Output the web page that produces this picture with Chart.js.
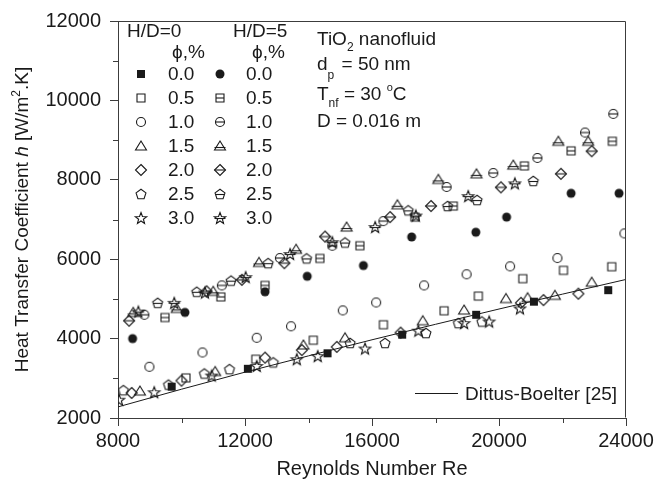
<!DOCTYPE html>
<html>
<head>
<meta charset="utf-8">
<script src="https://cdn.jsdelivr.net/npm/chart.js@4.4.1/dist/chart.umd.min.js"></script>
<style>
html,body{margin:0;padding:0;background:#fff;}
#wrap{width:670px;height:485px;}
</style>
</head>
<body>
<div id="wrap"><canvas id="c" width="670" height="485"></canvas></div>
<script>
// ---------------- DATA (Re, h) ----------------
// H/D = 0
const hd0_phi00 = [[9690,2790],[12090,3240],[14600,3630],[16950,4100],[19280,4600],[21100,4930],[23440,5220]];
const hd0_phi05 = [[10140,3010],[12340,3480],[14150,3960],[16360,4350],[18270,4700],[19350,5070],[20750,5510],[22030,5720],[23550,5810]];
const hd0_phi10 = [[8990,3290],[10660,3650],[12370,4020],[13450,4310],[15080,4710],[16130,4910],[17640,5340],[18980,5620],[20350,5820],[21840,6030],[23950,6650]];
const hd0_phi15 = [[8690,2680],[11060,3170],[13840,3840],[15150,4020],[17600,4450],[18900,4720],[20220,5010],[20900,5030],[21760,5090],[22920,5420]];
const hd0_phi20 = [[8430,2630],[10000,2940],[12630,3520],[13790,3710],[14890,3790],[16900,4150],[20690,4900],[21400,4970],[22500,5130]];
const hd0_phi25 = [[8170,2700],[9590,2840],[10720,3120],[11510,3230],[12890,3400],[15310,3890],[16410,3890],[17700,4140],[18720,4390],[19460,4430]];
const hd0_phi30 = [[8030,2460],[9140,2650],[10950,3070],[12370,3310],[13630,3480],[14290,3560],[15780,3750],[17460,4200],[18900,4390],[19690,4430],[20660,4760]];
// H/D = 5
const hd5_phi00 = [[8460,4000],[10110,4660],[12630,5180],[13960,5570],[15730,5840],[17250,6560],[19270,6680],[20240,7060],[22270,7660],[23780,7660]];
const hd5_phi05 = [[9480,4530],[11240,5050],[12630,5340],[14360,6020],[15620,6340],[17350,7060],[18560,7340],[20800,8350],[22270,8730],[23570,8970]];
const hd5_phi10 = [[8830,4600],[11270,5340],[13100,6030],[14750,6340],[16360,6960],[18350,7820],[19820,8170],[21210,8550],[22710,9190],[23600,9660]];
const hd5_phi15 = [[8480,4660],[9850,4760],[11000,5190],[12440,5920],[13610,6250],[15200,6810],[16800,7370],[18090,8010],[19290,8150],[20450,8370],[21870,8970],[22810,8970]];
const hd5_phi20 = [[8350,4450],[10790,5190],[11900,5480],[13240,5900],[14520,6570],[16570,7060],[17860,7340],[20060,7810],[21950,8150],[22920,8720]];
const hd5_phi25 = [[9250,4900],[10480,5180],[11560,5460],[12730,5900],[13940,6020],[15150,6420],[17140,7230],[18380,7340],[19310,7490],[21080,7970]];
const hd5_phi30 = [[8640,4680],[9770,4900],[10740,5160],[12020,5550],[13420,6130],[14750,6430],[16100,6810],[17380,7100],[19030,7590],[20500,7910]];
// Dittus-Boelter correlation line
const dbRe = [8000,10000,12000,14000,16000,18000,20000,22000,24000];
const dbH  = [2280,2725,3155,3565,3970,4360,4745,5120,5490];
// Legend / tick labels
const phiLabels = ['0.0','0.5','1.0','1.5','2.0','2.5','3.0'];
const xTickLabels = [8000,12000,16000,20000,24000];
const yTickLabels = [2000,4000,6000,8000,10000,12000];

// ---------------- STYLE ----------------
const FONT = "'Liberation Sans', Arial, Helvetica, sans-serif";
const INK = '#1a1a1a';
const AX = '#3c3c3c';

function makeMarker(shape, filled, bar) {
  const S = 16, c = 8;
  const cv = document.createElement('canvas');
  cv.width = S; cv.height = S;
  const g = cv.getContext('2d');
  g.strokeStyle = INK; g.fillStyle = INK; g.lineWidth = 1.1;
  g.beginPath();
  let hw = 4, by = c;
  if (shape === 'square') { g.rect(c-4, c-4, 8, 8); hw = 4; }
  else if (shape === 'circle') { g.arc(c, c, 4.5, 0, Math.PI*2); hw = 4.5; }
  else if (shape === 'triangle') { g.moveTo(c, c-5); g.lineTo(c+5.5, c+4); g.lineTo(c-5.5, c+4); g.closePath(); hw = 5.5; by = c+1.5; }
  else if (shape === 'diamond') { g.moveTo(c, c-5.5); g.lineTo(c+5.5, c); g.lineTo(c, c+5.5); g.lineTo(c-5.5, c); g.closePath(); hw = 5.5; }
  else if (shape === 'pentagon') {
    for (let i = 0; i < 5; i++) {
      const a = -Math.PI/2 + i*2*Math.PI/5;
      const px = c + 5.2*Math.cos(a), py = c + 0.5 + 5.2*Math.sin(a);
      if (i === 0) g.moveTo(px, py); else g.lineTo(px, py);
    }
    g.closePath(); hw = 5; by = c+0.5;
  }
  else if (shape === 'star') {
    for (let i = 0; i < 10; i++) {
      const a = -Math.PI/2 + i*Math.PI/5;
      const r = (i % 2 === 0) ? 6 : 2.5;
      const px = c + r*Math.cos(a), py = c + 0.5 + r*Math.sin(a);
      if (i === 0) g.moveTo(px, py); else g.lineTo(px, py);
    }
    g.closePath(); hw = 5.5; by = c+0.5;
  }
  if (filled) g.fill(); else g.stroke();
  if (bar) { g.beginPath(); g.moveTo(c-hw, by); g.lineTo(c+hw, by); g.stroke(); }
  return cv;
}

const shapes = ['square','square','circle','triangle','diamond','pentagon','star'];
const hd0Data = [hd0_phi00, hd0_phi05, hd0_phi10, hd0_phi15, hd0_phi20, hd0_phi25, hd0_phi30];
const hd5Data = [hd5_phi00, hd5_phi05, hd5_phi10, hd5_phi15, hd5_phi20, hd5_phi25, hd5_phi30];
const hd0Markers = shapes.map((s,i) => makeMarker(s, i === 0, false));
const hd5Markers = shapes.map((s,i) => i === 0 ? makeMarker('circle', true, false) : makeMarker(s, false, true));

const toXY = arr => arr.map(p => ({x: p[0], y: p[1]}));
const datasets = [];
hd0Data.forEach((d,i) => datasets.push({type:'scatter', label:'H/D=0 '+phiLabels[i], data: toXY(d), pointStyle: hd0Markers[i], pointRadius: 5, showLine:false}));
hd5Data.forEach((d,i) => datasets.push({type:'scatter', label:'H/D=5 '+phiLabels[i], data: toXY(d), pointStyle: hd5Markers[i], pointRadius: 5, showLine:false}));
datasets.push({type:'line', label:'Dittus-Boelter [25]', data: dbRe.map((x,i)=>({x, y: dbH[i]})), borderColor: INK, borderWidth: 1, pointRadius: 0, tension: 0, fill:false});

// ---------------- TEXT HELPERS ----------------
function drawRuns(ctx, x, y, runs, align) {
  ctx.textBaseline = 'alphabetic';
  ctx.textAlign = 'left';
  let total = 0;
  runs.forEach(r => { ctx.font = r.font; r.w = ctx.measureText(r.t).width; total += r.w + (r.gap||0); });
  let cx = align === 'center' ? x - total/2 : x;
  runs.forEach(r => { ctx.font = r.font; ctx.fillText(r.t, cx, y + (r.dy||0)); cx += r.w + (r.gap||0); });
}
const F = (s, st) => (st ? st + ' ' : '') + s + 'px ' + FONT;

const decor = {
  id: 'decor',
  afterDraw(chart) {
    const ctx = chart.ctx, a = chart.chartArea;
    const xs = chart.scales.x, ys = chart.scales.y;
    ctx.save();
    // top & right frame
    ctx.strokeStyle = AX; ctx.lineWidth = 1;
    ctx.beginPath();
    const L = Math.round(a.left) - 0.5, T = Math.round(a.top) + 0.5, R = Math.round(a.right) - 0.5, B = Math.round(a.bottom) - 0.5;
    ctx.moveTo(L, T); ctx.lineTo(R, T); ctx.lineTo(R, B);
    ctx.stroke();
    // minor ticks
    ctx.beginPath();
    [10000,14000,18000,22000].forEach(v => { const px = Math.round(xs.getPixelForValue(v)) + 0.5; ctx.moveTo(px, a.bottom); ctx.lineTo(px, a.bottom + 5); });
    [3000,5000,7000,9000,11000].forEach(v => { const py = Math.round(ys.getPixelForValue(v)) + 0.5; ctx.moveTo(a.left, py); ctx.lineTo(a.left - 5, py); });
    ctx.stroke();

    ctx.fillStyle = INK;
    // y-axis title (rotated)
    ctx.save();
    ctx.translate(28, (a.top + a.bottom)/2);
    ctx.rotate(-Math.PI/2);
    drawRuns(ctx, 0, 0, [
      {t:'Heat Transfer Coefficient ', font:F(19)},
      {t:'h', font:F(19,'italic')},
      {t:' [W/m', font:F(19)},
      {t:'2', font:F(12), dy:-8},
      {t:'.K]', font:F(19)}
    ], 'center');
    ctx.restore();

    // legend headers
    ctx.font = F(19); ctx.textAlign = 'left'; ctx.textBaseline = 'middle';
    ctx.fillText('H/D=0', 127, 32);
    ctx.fillText('H/D=5', 233, 32);
    ctx.fillText('\u03D5,%', 172, 53);
    ctx.fillText('\u03D5,%', 252, 53);
    phiLabels.forEach((lab, i) => {
      const yy = 74 + i*24;
      ctx.drawImage(hd0Markers[i], 141 - 8, Math.round(yy) - 8);
      ctx.drawImage(hd5Markers[i], 220 - 8, Math.round(yy) - 8);
      ctx.font = F(19); ctx.textAlign = 'left'; ctx.textBaseline = 'middle';
      ctx.fillText(lab, 168, yy + 1);
      ctx.fillText(lab, 246, yy + 1);
    });

    // annotation block
    drawRuns(ctx, 317, 45, [
      {t:'TiO', font:F(19)}, {t:'2', font:F(12), dy:6}, {t:' nanofluid', font:F(19)}
    ], 'left');
    drawRuns(ctx, 317, 70, [
      {t:'d', font:F(19)}, {t:'p', font:F(12), dy:9, gap:2}, {t:' = 50 nm', font:F(19)}
    ], 'left');
    drawRuns(ctx, 317, 100, [
      {t:'T', font:F(19)}, {t:'nf', font:F(12), dy:7}, {t:' = 30 ', font:F(19)}, {t:'o', font:F(11), dy:-9}, {t:'C', font:F(19)}
    ], 'left');
    drawRuns(ctx, 317, 127, [{t:'D = 0.016 m', font:F(19)}], 'left');

    // Dittus-Boelter legend
    ctx.strokeStyle = INK; ctx.lineWidth = 1;
    ctx.beginPath(); ctx.moveTo(415, 393.5); ctx.lineTo(458, 393.5); ctx.stroke();
    ctx.font = F(19); ctx.textAlign = 'left'; ctx.textBaseline = 'middle';
    ctx.fillText('Dittus-Boelter [25]', 465, 395);
    ctx.restore();
  }
};

new Chart(document.getElementById('c'), {
  type: 'scatter',
  data: { datasets },
  options: {
    responsive: false,
    animation: false,
    events: [],
    layout: { padding: { top: 15, right: 44, left: 0, bottom: 0 } },
    plugins: { legend: { display: false }, tooltip: { enabled: false } },
    scales: {
      x: {
        type: 'linear', min: 8000, max: 24000,
        ticks: { stepSize: 2000, autoSkip: false, maxRotation: 0, padding: 3, color: INK,
                 font: { family: FONT, size: 20 },
                 callback: v => xTickLabels.includes(v) ? String(v) : '' },
        grid: { display: true, drawOnChartArea: false, drawTicks: true, tickLength: 8,
                color: c => (c.tick && xTickLabels.includes(c.tick.value)) ? AX : 'rgba(0,0,0,0)' },
        border: { display: true, color: AX, width: 1 },
        title: { display: true, text: 'Reynolds Number Re', color: INK, font: { family: FONT, size: 20 }, padding: { top: 4, bottom: 4 } },
        afterFit: s => { s.height = 67; }
      },
      y: {
        type: 'linear', min: 2000, max: 12000,
        ticks: { stepSize: 1000, autoSkip: false, padding: 9, color: INK,
                 font: { family: FONT, size: 20 },
                 callback: v => yTickLabels.includes(v) ? String(v) : '' },
        grid: { display: true, drawOnChartArea: false, drawTicks: true, tickLength: 8,
                color: c => (c.tick && yTickLabels.includes(c.tick.value)) ? AX : 'rgba(0,0,0,0)' },
        border: { display: true, color: AX, width: 1 },
        title: { display: false },
        afterFit: s => { s.width = 118; }
      }
    }
  },
  plugins: [decor]
});
</script>
</body>
</html>
